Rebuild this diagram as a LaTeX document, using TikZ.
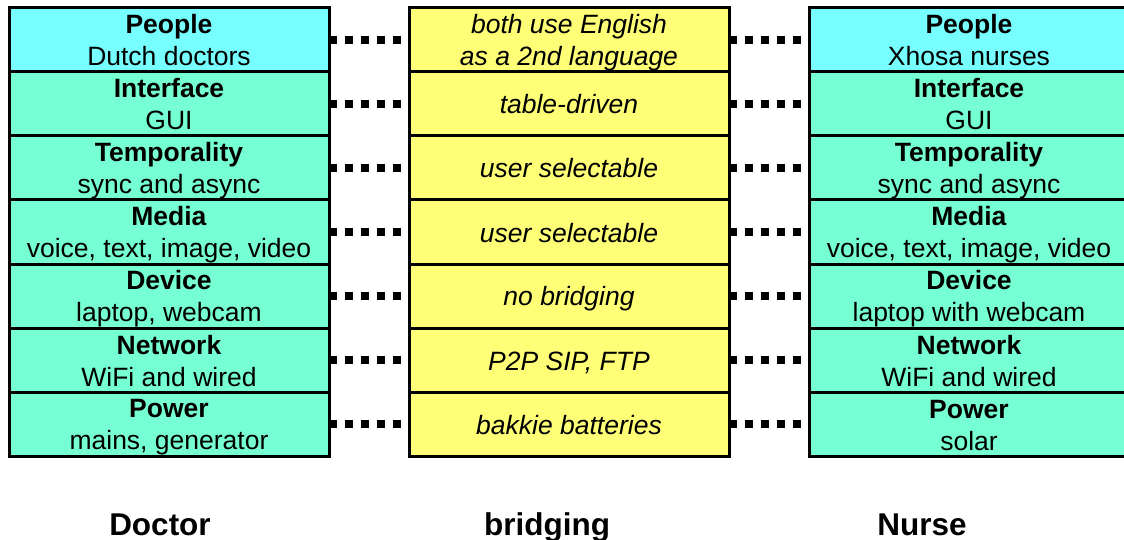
\documentclass[tikz,border=0pt]{standalone}
\usepackage{fontspec}
\setmainfont{Liberation Sans}
\usepackage{tikz}
\definecolor{peoplecyan}{RGB}{119, 255, 255}
\definecolor{layeraqua}{RGB}{119, 255, 212}
\definecolor{bridgeyellow}{RGB}{255, 255, 119}
\newcommand{\rowstrut}{\rule[-4pt]{0pt}{28pt}}

\begin{document}
\begin{tikzpicture}[x=1pt, y=-1pt,
    cell/.style={rectangle, draw=black, line width=3pt, fill=layeraqua, inner sep=0pt, outer sep=0pt,
                 minimum width=320pt, minimum height=64pt, align=center,
                 font=\fontsize{26.5}{32}\selectfont},
    topcell/.style={cell, fill=peoplecyan},
    bridge/.style={cell, fill=bridgeyellow, font=\fontsize{26.5}{32}\selectfont\itshape},
    dotline/.style={line width=7.5pt, dash pattern=on 7.5pt off 8.5pt},
    caption/.style={font=\fontsize{31.5}{34}\selectfont\bfseries, inner sep=0pt}
]
    \useasboundingbox (0,0) rectangle (1124,540);

    % Doctor side
    \node[topcell] (doc1) at (169,40) {\rowstrut\textbf{People}\\\rowstrut Dutch doctors};
    \node[cell] (doc2) at (169,104) {\rowstrut\textbf{Interface}\\\rowstrut GUI};
    \node[cell] (doc3) at (169,168) {\rowstrut\textbf{Temporality}\\\rowstrut sync and async};
    \node[cell] (doc4) at (169,232) {\rowstrut\textbf{Media}\\\rowstrut voice, text, image, video};
    \node[cell] (doc5) at (169,296) {\rowstrut\textbf{Device}\\\rowstrut laptop, webcam};
    \node[cell] (doc6) at (169,360) {\rowstrut\textbf{Network}\\\rowstrut WiFi and wired};
    \node[cell] (doc7) at (169,424) {\rowstrut\textbf{Power}\\\rowstrut mains, generator};

    % Bridging
    \node[bridge] (mid1) at (569,40) {\rowstrut both use English\\\rowstrut as a 2nd language};
    \node[bridge] (mid2) at (569,104) {\rowstrut table-driven};
    \node[bridge] (mid3) at (569,168) {\rowstrut user selectable};
    \node[bridge] (mid4) at (569,232) {\rowstrut user selectable};
    \node[bridge] (mid5) at (569,296) {\rowstrut no bridging};
    \node[bridge] (mid6) at (569,360) {\rowstrut P2P SIP, FTP};
    \node[bridge] (mid7) at (569,424) {\rowstrut bakkie batteries};

    % Nurse side
    \node[topcell] (nur1) at (969,40) {\rowstrut\textbf{People}\\\rowstrut Xhosa nurses};
    \node[cell] (nur2) at (969,104) {\rowstrut\textbf{Interface}\\\rowstrut GUI};
    \node[cell] (nur3) at (969,168) {\rowstrut\textbf{Temporality}\\\rowstrut sync and async};
    \node[cell] (nur4) at (969,232) {\rowstrut\textbf{Media}\\\rowstrut voice, text, image, video};
    \node[cell] (nur5) at (969,296) {\rowstrut\textbf{Device}\\\rowstrut laptop with webcam};
    \node[cell] (nur6) at (969,360) {\rowstrut\textbf{Network}\\\rowstrut WiFi and wired};
    \node[cell] (nur7) at (969,424) {\rowstrut\textbf{Power}\\\rowstrut solar};

    % Dotted links
    \foreach \i in {1,...,7} {
        \draw[dotline] (doc\i.east) -- (mid\i.west);
        \draw[dotline] (mid\i.east) -- (nur\i.west);
    }

    % Captions
    \node[caption, anchor=base] (doctor) at (160,535) {Doctor};
    \node[caption, anchor=base] (bridging) at (547,535) {bridging};
    \node[caption, anchor=base] (nurse) at (922,535) {Nurse};
\end{tikzpicture}
\end{document}
